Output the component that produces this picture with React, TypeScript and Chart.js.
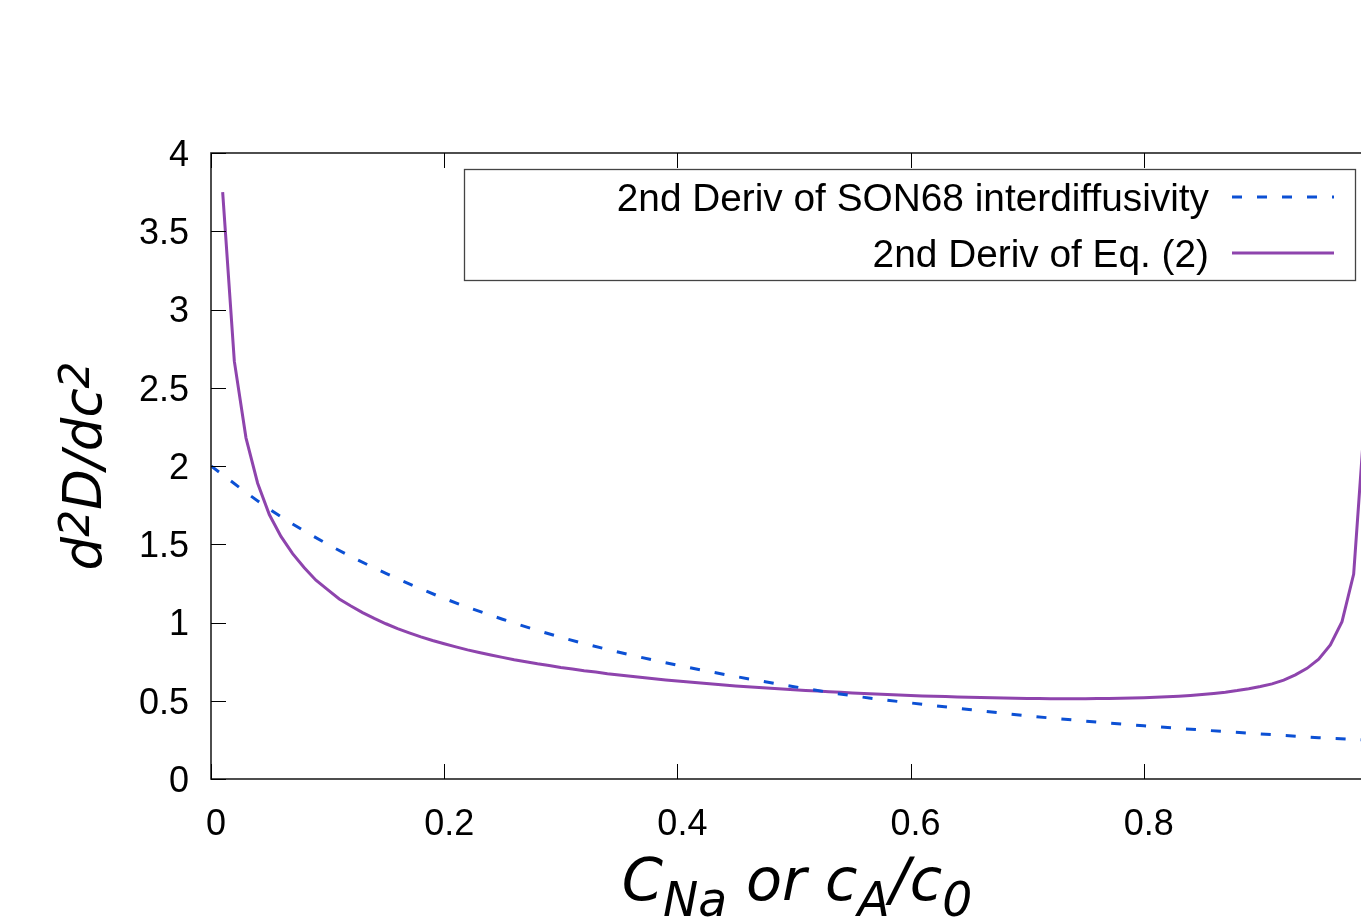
import { useEffect, useRef } from "react";
import { Chart, registerables } from "chart.js";

Chart.register(...registerables);

// Second derivative of Eq. (2), sampled on c = 0.01 … 0.99
const eqX = [
  0.01, 0.02, 0.03, 0.04, 0.05, 0.06, 0.07, 0.08, 0.09, 0.1,
  0.11, 0.12, 0.13, 0.14, 0.15, 0.16, 0.17, 0.18, 0.19, 0.2,
  0.21, 0.22, 0.23, 0.24, 0.25, 0.26, 0.27, 0.28, 0.29, 0.3,
  0.31, 0.32, 0.33, 0.34, 0.35, 0.36, 0.37, 0.38, 0.39, 0.4,
  0.41, 0.42, 0.43, 0.44, 0.45, 0.46, 0.47, 0.48, 0.49, 0.5,
  0.51, 0.52, 0.53, 0.54, 0.55, 0.56, 0.57, 0.58, 0.59, 0.6,
  0.61, 0.62, 0.63, 0.64, 0.65, 0.66, 0.67, 0.68, 0.69, 0.7,
  0.71, 0.72, 0.73, 0.74, 0.75, 0.76, 0.77, 0.78, 0.79, 0.8,
  0.81, 0.82, 0.83, 0.84, 0.85, 0.86, 0.87, 0.88, 0.89, 0.9,
  0.91, 0.92, 0.93, 0.94, 0.95, 0.96, 0.97, 0.98, 0.99,
];
const eqY = [
  3.75, 2.67, 2.18, 1.89, 1.69, 1.55, 1.44, 1.35, 1.27, 1.21,
  1.15, 1.105, 1.063, 1.026, 0.992, 0.961, 0.934, 0.908, 0.885, 0.864,
  0.844, 0.825, 0.808, 0.792, 0.777, 0.762, 0.749, 0.736, 0.725, 0.713,
  0.703, 0.692, 0.683, 0.673, 0.665, 0.656, 0.648, 0.641, 0.633, 0.626,
  0.62, 0.613, 0.607, 0.601, 0.595, 0.59, 0.585, 0.58, 0.575, 0.57,
  0.566, 0.562, 0.558, 0.554, 0.55, 0.547, 0.543, 0.54, 0.537, 0.534,
  0.531, 0.529, 0.527, 0.524, 0.522, 0.52, 0.519, 0.517, 0.516, 0.515,
  0.514, 0.513, 0.513, 0.513, 0.513, 0.514, 0.514, 0.516, 0.517, 0.519,
  0.522, 0.525, 0.529, 0.534, 0.54, 0.547, 0.555, 0.565, 0.577, 0.591,
  0.608, 0.632, 0.665, 0.707, 0.765, 0.857, 1.005, 1.31, 2.36,
];

// Second derivative of the SON68 interdiffusivity
const sonX = [
  0, 0.05, 0.1, 0.15, 0.2, 0.25, 0.3, 0.35, 0.4, 0.45, 0.5,
  0.55, 0.6, 0.65, 0.7, 0.75, 0.8, 0.85, 0.9, 0.95, 1.0,
];
const sonY = [
  2.0, 1.725, 1.5, 1.314, 1.154, 1.021, 0.906, 0.81, 0.727, 0.655, 0.59,
  0.532, 0.486, 0.444, 0.404, 0.37, 0.34, 0.313, 0.288, 0.264, 0.245,
];

const xTicks = [0, 0.2, 0.4, 0.6, 0.8, 1.0];
const yTicks = [0, 0.5, 1, 1.5, 2, 2.5, 3, 3.5, 4];
const seriesNames = ["2nd Deriv of SON68 interdiffusivity", "2nd Deriv of Eq. (2)"];

const SON_COLOR = "#0c50d4";
const EQ_COLOR = "#8e44ad";
const DASH = [10, 15];

const CANVAS_W = 1411;
const CANVAS_H = 919;
const AREA = { left: 211, top: 153, bottom: 779 };
const PAD_RIGHT = 30;
const SANS = '"Liberation Sans", Arial, sans-serif';
const TITLE_FONT = '"DejaVu Sans", sans-serif';

type Part = { t: string; mode?: "sup" | "sub" };

function drawRich(
  ctx: CanvasRenderingContext2D,
  parts: Part[],
  cx: number,
  baseline: number,
  size: number,
  scriptScale: number,
  supRise: number,
  subDrop: number
) {
  const small = size * scriptScale;
  const fontFor = (p: Part) => `italic ${p.mode ? small : size}px ${TITLE_FONT}`;
  let total = 0;
  const widths = parts.map((p) => {
    ctx.font = fontFor(p);
    const w = ctx.measureText(p.t).width;
    total += w;
    return w;
  });
  let x = cx - total / 2;
  ctx.textAlign = "left";
  ctx.textBaseline = "alphabetic";
  parts.forEach((p, i) => {
    ctx.font = fontFor(p);
    let dy = 0;
    if (p.mode === "sup") dy = -size * supRise;
    if (p.mode === "sub") dy = size * subDrop;
    ctx.fillText(p.t, x, baseline + dy);
    x += widths[i];
  });
}

const framePlugin = {
  id: "frameAndLegend",
  afterDraw(chart: Chart) {
    const ctx = chart.ctx;
    const { left, top, right, bottom } = chart.chartArea;
    const xs = chart.scales.x;
    const ys = chart.scales.y;
    ctx.save();

    // border
    ctx.strokeStyle = "#222";
    ctx.lineWidth = 1.6;
    ctx.setLineDash([]);
    ctx.strokeRect(left, top, right - left, bottom - top);

    // inward ticks on all four sides
    const tl = 15;
    ctx.lineWidth = 1;
    ctx.strokeStyle = "#000";
    ctx.beginPath();
    xTicks.forEach((v) => {
      const px = Math.round(xs.getPixelForValue(v)) + 0.5;
      ctx.moveTo(px, bottom);
      ctx.lineTo(px, bottom - tl);
      ctx.moveTo(px, top);
      ctx.lineTo(px, top + tl);
    });
    yTicks.forEach((v) => {
      const py = Math.round(ys.getPixelForValue(v)) + 0.5;
      ctx.moveTo(left, py);
      ctx.lineTo(left + tl, py);
      ctx.moveTo(right, py);
      ctx.lineTo(right - tl, py);
    });
    ctx.stroke();

    // key box
    ctx.strokeStyle = "#444";
    ctx.lineWidth = 1.3;
    ctx.strokeRect(464.5, 169.5, 891, 111);

    ctx.fillStyle = "#000";
    ctx.font = `38.8px ${SANS}`;
    ctx.textAlign = "right";
    ctx.textBaseline = "middle";
    const rows = [200, 256];
    ctx.fillText(seriesNames[0], 1209, rows[0]);
    ctx.fillText(seriesNames[1], 1209, rows[1]);

    ctx.lineWidth = 3;
    ctx.strokeStyle = SON_COLOR;
    ctx.setLineDash(DASH);
    ctx.beginPath();
    ctx.moveTo(1232, 197);
    ctx.lineTo(1334, 197);
    ctx.stroke();

    ctx.setLineDash([]);
    ctx.strokeStyle = EQ_COLOR;
    ctx.beginPath();
    ctx.moveTo(1232, 253);
    ctx.lineTo(1334, 253);
    ctx.stroke();

    // axis titles
    ctx.fillStyle = "#000";
    drawRich(
      ctx,
      [{ t: "C" }, { t: "Na", mode: "sub" }, { t: " or c" }, { t: "A", mode: "sub" }, { t: "/c" }, { t: "0", mode: "sub" }],
      797,
      900,
      59,
      0.8,
      0.4,
      0.27
    );

    ctx.save();
    ctx.translate(101, 466);
    ctx.rotate(-Math.PI / 2);
    drawRich(
      ctx,
      [{ t: "d" }, { t: "2", mode: "sup" }, { t: "D/dc" }, { t: "2", mode: "sup" }],
      0,
      0,
      53,
      0.8,
      0.22,
      0
    );
    ctx.restore();

    ctx.restore();
  },
};

export default function App() {
  const canvasRef = useRef<HTMLCanvasElement | null>(null);

  useEffect(() => {
    const canvas = canvasRef.current;
    if (!canvas) return;
    const tickFont = { family: SANS, size: 36 };

    const chart = new Chart(canvas, {
      type: "line",
      data: {
        datasets: [
          {
            label: seriesNames[0],
            data: sonX.map((x, i) => ({ x, y: sonY[i] })),
            borderColor: SON_COLOR,
            borderWidth: 3,
            borderDash: DASH,
            pointRadius: 0,
            cubicInterpolationMode: "monotone",
            fill: false,
          },
          {
            label: seriesNames[1],
            data: eqX.map((x, i) => ({ x, y: eqY[i] })),
            borderColor: EQ_COLOR,
            borderWidth: 3,
            pointRadius: 0,
            tension: 0,
            fill: false,
          },
        ],
      },
      options: {
        animation: false,
        responsive: false,
        devicePixelRatio: 1,
        layout: {
          padding: {
            left: 0,
            top: AREA.top,
            right: PAD_RIGHT,
            bottom: 0,
          },
        },
        plugins: {
          legend: { display: false },
          tooltip: { enabled: false },
        },
        scales: {
          x: {
            type: "linear",
            min: 0,
            max: 1,
            grid: { display: false, drawTicks: false },
            border: { display: false },
            afterBuildTicks: (scale: any) => {
              scale.ticks = xTicks.map((v) => ({ value: v }));
            },
            afterFit: (scale: any) => {
              scale.height = CANVAS_H - AREA.bottom;
            },
            ticks: {
              font: tickFont,
              color: "#000",
              padding: 24,
              labelOffset: 5,
              maxRotation: 0,
              callback: (v: any) => String(v),
            },
          },
          y: {
            type: "linear",
            min: 0,
            max: 4,
            grid: { display: false, drawTicks: false },
            border: { display: false },
            afterBuildTicks: (scale: any) => {
              scale.ticks = yTicks.map((v) => ({ value: v }));
            },
            afterFit: (scale: any) => {
              scale.width = AREA.left;
            },
            ticks: {
              font: tickFont,
              color: "#000",
              padding: 22,
              labelOffset: 3,
              callback: (v: any) => String(v),
            },
          },
        },
      },
      plugins: [framePlugin],
    });

    return () => chart.destroy();
  }, []);

  return (
    <div
      style={{
        position: "fixed",
        left: 0,
        top: 0,
        width: 1361,
        height: 919,
        overflow: "hidden",
        background: "#fff",
      }}
    >
      <canvas ref={canvasRef} width={CANVAS_W} height={CANVAS_H} style={{ display: "block" }} />
    </div>
  );
}
